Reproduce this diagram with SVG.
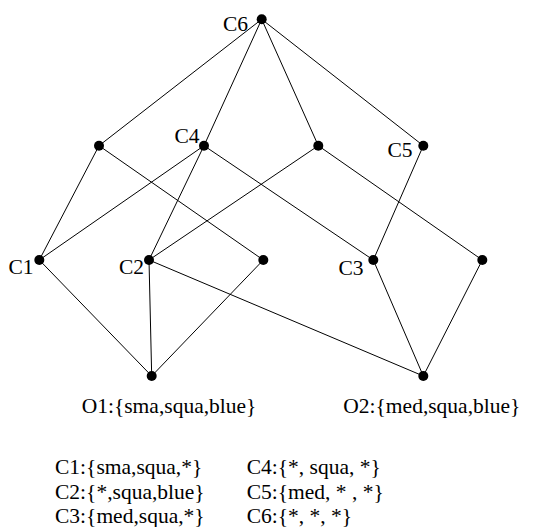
<svg xmlns="http://www.w3.org/2000/svg" width="551" height="527" viewBox="0 0 551 527">
<style>
text{font-family:"Liberation Serif","Times New Roman",serif;font-size:21.5px;fill:#000}
.e line{stroke:#000;stroke-width:1}
.n circle{fill:#000}
</style>
<rect width="551" height="527" fill="#fff"/>
<g id="edges" class="e">
<line x1="261.7" y1="19.3" x2="99" y2="145.7"/>
<line x1="261.7" y1="19.3" x2="204" y2="145.7"/>
<line x1="261.7" y1="19.3" x2="318.3" y2="145.7"/>
<line x1="261.7" y1="19.3" x2="423.3" y2="145.7"/>
<line x1="99" y1="145.7" x2="39.3" y2="260"/>
<line x1="99" y1="145.7" x2="263.3" y2="260"/>
<line x1="204" y1="145.7" x2="39.3" y2="260"/>
<line x1="204" y1="145.7" x2="149" y2="260"/>
<line x1="204" y1="145.7" x2="373.3" y2="260"/>
<line x1="318.3" y1="145.7" x2="149" y2="260"/>
<line x1="318.3" y1="145.7" x2="482.3" y2="260"/>
<line x1="423.3" y1="145.7" x2="373.3" y2="260"/>
<line x1="39.3" y1="260" x2="151.7" y2="376"/>
<line x1="149" y1="260" x2="151.7" y2="376"/>
<line x1="263.3" y1="260" x2="151.7" y2="376"/>
<line x1="149" y1="260" x2="423.3" y2="376"/>
<line x1="373.3" y1="260" x2="423.3" y2="376"/>
<line x1="482.3" y1="260" x2="423.3" y2="376"/>
</g>
<g id="C6" class="n"><circle cx="261.7" cy="19.3" r="5"/><text x="248" y="31" text-anchor="end">C6</text></g>
<g id="N1" class="n"><circle cx="99" cy="145.7" r="5"/></g>
<g id="C4" class="n"><circle cx="204" cy="145.7" r="5"/><text x="199.5" y="142.5" text-anchor="end">C4</text></g>
<g id="N2" class="n"><circle cx="318.3" cy="145.7" r="5"/></g>
<g id="C5" class="n"><circle cx="423.3" cy="145.7" r="5"/><text x="412.5" y="156.5" text-anchor="end">C5</text></g>
<g id="C1" class="n"><circle cx="39.3" cy="260" r="5"/><text x="33.5" y="274" text-anchor="end">C1</text></g>
<g id="C2" class="n"><circle cx="149" cy="260" r="5"/><text x="144" y="274" text-anchor="end">C2</text></g>
<g id="N3" class="n"><circle cx="263.3" cy="260" r="5"/></g>
<g id="C3" class="n"><circle cx="373.3" cy="260" r="5"/><text x="363.5" y="275" text-anchor="end">C3</text></g>
<g id="N4" class="n"><circle cx="482.3" cy="260" r="5"/></g>
<g id="O1" class="n"><circle cx="151.7" cy="376" r="5"/><text x="81.7" y="413">O1:{sma,squa,blue}</text></g>
<g id="O2" class="n"><circle cx="423.3" cy="376" r="5"/><text x="343.3" y="413">O2:{med,squa,blue}</text></g>
<g id="legend">
<text x="55" y="474">C1:{sma,squa,*}</text>
<text x="55" y="498.5">C2:{*,squa,blue}</text>
<text x="55" y="523">C3:{med,squa,*}</text>
<text x="246.7" y="474">C4:{*, squa, *}</text>
<text x="246.7" y="498.5">C5:{med, * , *}</text>
<text x="246.7" y="523">C6:{*, *, *}</text>
</g>
</svg>
